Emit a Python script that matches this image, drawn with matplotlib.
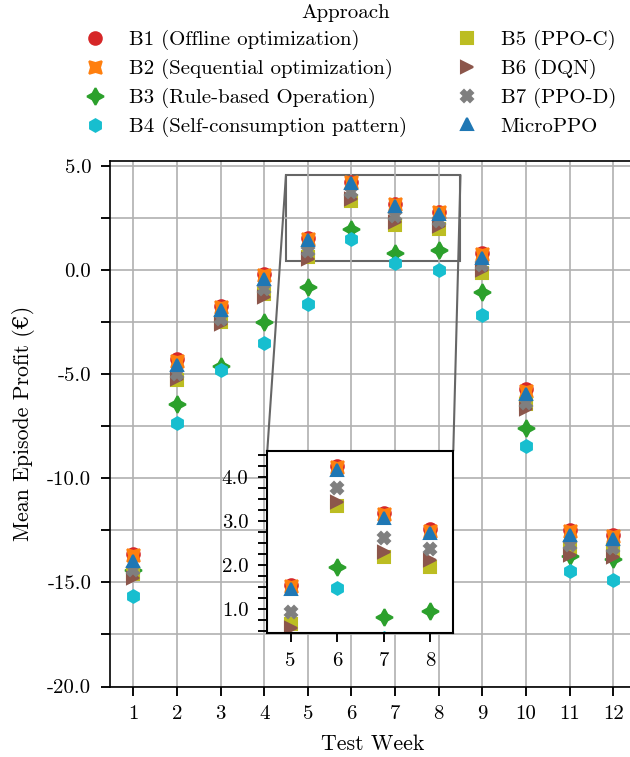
import numpy as np
import matplotlib.pyplot as plt
from matplotlib.ticker import MultipleLocator, FormatStrFormatter
from mpl_toolkits.axes_grid1.inset_locator import mark_inset

plt.rcParams['font.family'] = ['cmr10', 'DejaVu Serif']
plt.rcParams['axes.unicode_minus'] = False
plt.rcParams['font.size'] = 10

weeks = np.arange(1, 13)

# mean episode profit per test week
b1 = [-13.62, -4.28, -1.70, -0.20, 1.55, 4.26, 3.19, 2.81, 0.83, -5.72, -12.47, -12.71]
b2 = [-13.70, -4.36, -1.76, -0.24, 1.52, 4.23, 3.16, 2.78, 0.77, -5.80, -12.55, -12.77]
b3 = [-14.38, -6.41, -4.60, -2.48, -0.80, 1.96, 0.83, 0.95, -1.04, -7.56, -13.74, -13.86]
b4 = [-15.67, -7.34, -4.78, -3.49, -1.60, 1.49, 0.35, 0.00, -2.13, -8.46, -14.47, -14.86]
b5 = [-14.60, -5.26, -2.48, -1.12, 0.65, 3.35, 2.19, 1.96, -0.13, -6.44, -13.30, -13.46]
b6 = [-14.78, -5.21, -2.56, -1.28, 0.56, 3.44, 2.30, 2.11, 0.03, -6.65, -13.70, -13.78]
b7 = [-14.42, -4.97, -2.32, -0.91, 0.94, 3.76, 2.62, 2.36, 0.24, -6.36, -13.19, -13.35]
microppo = [-13.97, -4.57, -1.92, -0.43, 1.45, 4.17, 3.08, 2.72, 0.61, -5.96, -12.74, -12.93]

labels = ["B1 (Offline optimization)", "B2 (Sequential optimization)",
          "B3 (Rule-based Operation)", "B4 (Self-consumption pattern)",
          "B5 (PPO-C)", "B6 (DQN)", "B7 (PPO-D)", "MicroPPO"]
series = [b1, b2, b3, b4, b5, b6, b7, microppo]
colors = ['tab:red', 'tab:orange', 'tab:green', 'tab:cyan',
          'tab:olive', 'tab:brown', 'tab:gray', 'tab:blue']
markers = ['o', (4, 1, 45), (4, 1, 0), 'h', 's', '>', 'X', '^']
sizes = [6, 8.5, 8, 6, 6, 6, 6, 6]

W, H = 630, 757
fig = plt.figure(figsize=(W / 150, H / 150), dpi=150)
ax = fig.add_axes([110 / W, 1 - 686.5 / H, 525 / W, (686.5 - 161) / H])

for vals, lab, c, m, s in zip(series, labels, colors, markers, sizes):
    ax.plot(weeks, vals, linestyle='none', marker=m, ms=s, color=c, label=lab)

ax.set_xlim(0.466, 12.5)
ax.set_ylim(-20, 5.25)
ax.set_xticks(weeks)
ax.yaxis.set_major_locator(MultipleLocator(5))
ax.yaxis.set_minor_locator(MultipleLocator(2.5))
ax.yaxis.set_major_formatter(FormatStrFormatter('%.1f'))
ax.tick_params(which='both', length=4.5, width=0.9, pad=4.5)
ax.grid(True, which='both')
ax.set_xlabel("Test Week", fontsize=10.5, labelpad=5.5)
ax.set_ylabel("Mean Episode Profit (€)", fontsize=10.5, labelpad=6)

# zoomed inset for weeks 5-8
axins = fig.add_axes([267.3 / W, 1 - 633.3 / H, 186 / W, 182.6 / H])
for vals, c, m, s in zip(series, colors, markers, sizes):
    axins.plot(weeks, vals, linestyle='none', marker=m, ms=s, color=c)
axins.set_xlim(4.5, 8.5)
axins.set_ylim(0.45, 4.6)
axins.set_xticks([5, 6, 7, 8])
axins.yaxis.set_major_locator(MultipleLocator(1))
axins.yaxis.set_minor_locator(MultipleLocator(0.25))
axins.yaxis.set_major_formatter(FormatStrFormatter('%.1f'))
axins.tick_params(which='both', length=4.5, width=0.9, pad=4.5)
for sp in axins.spines.values():
    sp.set_linewidth(1.0)
mark_inset(ax, axins, loc1=2, loc2=1, fc='none', ec='0.4', lw=1.0)

handles, labs = ax.get_legend_handles_labels()
fig.legend(handles, labs, loc='upper center', bbox_to_anchor=(0.548, 1.02),
           ncol=2, frameon=False, title="Approach", columnspacing=1.9,
           handletextpad=0.6, labelspacing=0.42)

fig.savefig("out.png", dpi=150)
